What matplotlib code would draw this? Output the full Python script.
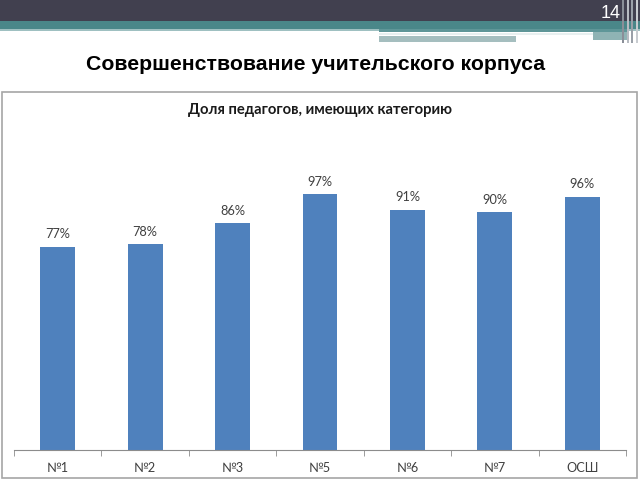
import matplotlib
matplotlib.use("Agg")
import matplotlib.pyplot as plt
from matplotlib.patches import Rectangle

categories = ["№1", "№2", "№3", "№5", "№6", "№7", "ОСШ"]
values = [77, 78, 86, 97, 91, 90, 96]
slide_title = "Совершенствование учительского корпуса"
chart_title = "Доля педагогов, имеющих категорию"
page_number = "14"

W, H = 640, 480
fig = plt.figure(figsize=(6.4, 4.8), dpi=100)
fig.patch.set_facecolor("white")

# background / decoration axes in pixel coordinates
bg = fig.add_axes([0, 0, 1, 1], zorder=0)
bg.set_xlim(0, W)
bg.set_ylim(H, 0)
bg.axis("off")

def rect(x, y, w, h, color, **kw):
    bg.add_patch(Rectangle((x, y), w, h, facecolor=color, edgecolor="none", **kw))

rect(0, 0, W, 21, "#41404f")
rect(0, 21, W, 8, "#4a8789")
rect(0, 29, W, 2, "#9fc0c1")
rect(379, 29, 248, 3, "#5f9698")
rect(379, 33, 214, 2, "#e8f0f0")
rect(593, 32, 34, 8, "#8fb3b4")
rect(379, 36, 137, 6, "#a5bebf")
for xv, c in [(622, "#8a8f98"), (627, "#b8bcc2"), (631, "#9aa0a8"), (636, "#c8ccd0")]:
    rect(xv, 0, 2, 43, c)
bg.text(611, 14, page_number, color="white", fontsize=13, ha="center", va="center",
        family="Liberation Sans")
bg.text(316, 64, slide_title, color="black", fontsize=15.3, fontweight="bold",
        ha="center", va="center", family="Liberation Sans")
# chart border
bg.add_patch(Rectangle((2, 92), 635, 386, facecolor="white", edgecolor="#a6a6a6", lw=1.2))
bg.text(320, 110, chart_title, color="#1a1a1a", fontsize=10.6, fontweight="bold",
        ha="center", va="center", family="Lato")

# main chart axes
left, right, bottom, top = 14, 626, 450, 130
ax = fig.add_axes([left / W, 1 - bottom / H, (right - left) / W, (bottom - top) / H], zorder=1)
ax.patch.set_alpha(0)
xs = range(len(categories))
bars = ax.bar(xs, values, width=0.4, color="#4f81bd")
ax.set_xlim(-0.5, len(categories) - 0.5)
ax.set_ylim(0, (bottom - top) / 2.64)
for b, v in zip(bars, values):
    ax.text(b.get_x() + b.get_width() / 2, v + 2.4, f"{v}%", ha="center", va="bottom",
            fontsize=9.2, color="#404040", family="Lato")
for s in ["top", "right", "left"]:
    ax.spines[s].set_visible(False)
ax.spines["bottom"].set_color("#8c8c8c")
ax.set_yticks([])
ax.set_xticks(list(xs))
ax.set_xticklabels(categories, fontsize=9.2, color="#404040", family="Lato")
ax.tick_params(axis="x", length=0, pad=9)
ax.set_xticks([i - 0.5 for i in range(len(categories) + 1)], minor=True)
ax.tick_params(axis="x", which="minor", length=4, color="#8c8c8c")

fig.savefig("out.png", dpi=100)
